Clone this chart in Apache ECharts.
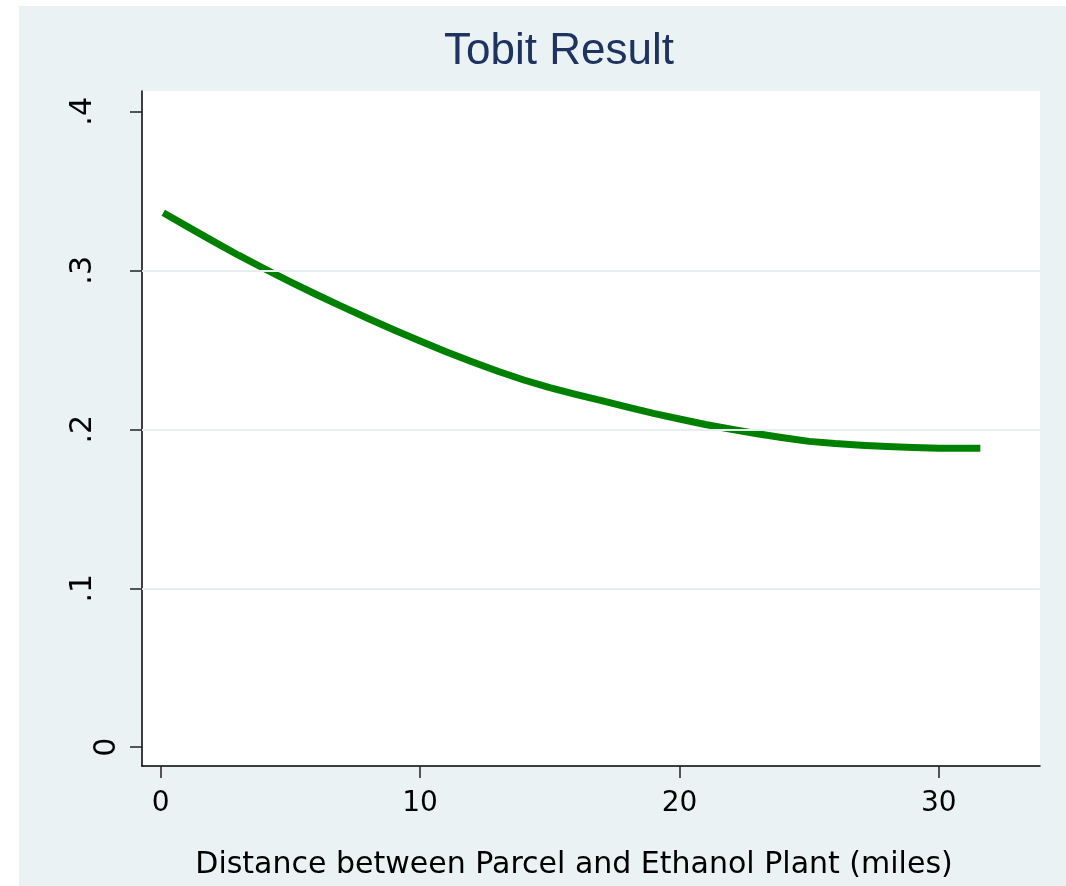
<!DOCTYPE html>
<html>
<head>
<meta charset="utf-8">
<script src="https://cdn.jsdelivr.net/npm/echarts@6/dist/echarts.min.js"></script>
<style>
html,body{margin:0;padding:0;background:#ffffff;}
#chart{position:absolute;left:19px;top:6px;width:1047px;height:880px;}
</style>
</head>
<body>
<div id="chart"></div>
<script>
// Data
const distance = [0.1,1,2,3,4,5,6,7,8,9,10,11,12,13,14,15,16,17,18,19,20,21,22,23,24,25,26,27,28,29,30,31,31.6];
const predicted = [0.3362,0.3278,0.3185,0.3095,0.3010,0.2928,0.2848,0.2772,0.2697,0.2625,0.2555,0.2488,0.2425,0.2365,0.2310,0.2262,0.2220,0.2180,0.2140,0.2100,0.2065,0.2030,0.2000,0.1972,0.1947,0.1924,0.1910,0.1900,0.1892,0.1885,0.1881,0.1880,0.1880];
const xTicks = [0,10,20,30];
const yTicks = [0,0.1,0.2,0.3,0.4];
const yGridLines = [0.1,0.2,0.3];
const titleText = 'Tobit Result';
const xAxisTitle = 'Distance between Parcel and Ethanol Plant (miles)';

const chart = echarts.init(document.getElementById('chart'));
const pts = distance.map((x,i)=>[x,predicted[i]]);
const fmtY = v => { const r = Math.round(v*10)/10; return r===0 ? '0' : String(r).replace(/^0/,''); };

chart.setOption({
  backgroundColor:'#EAF2F3',
  animation:false,
  title:{
    text:titleText, left:420, top:19,
    textStyle:{fontFamily:'Liberation Sans, Arial, sans-serif', fontSize:44, fontWeight:'normal', color:'#1f3360'}
  },
  grid:{left:123, top:85, right:26, bottom:120, show:true, backgroundColor:'#ffffff', borderWidth:0},
  xAxis:{
    type:'value', min:-0.72, max:33.9,
    axisLine:{show:true, onZero:false, lineStyle:{color:'#000', width:1.5}},
    axisTick:{show:true, customValues:xTicks, length:12, lineStyle:{color:'#222', width:1.5}},
    axisLabel:{customValues:xTicks, margin:24, fontFamily:'DejaVu Sans, sans-serif', fontSize:28, color:'#000'},
    splitLine:{show:false},
    name:xAxisTitle, nameLocation:'middle', nameGap:84,
    nameTextStyle:{fontFamily:'DejaVu Sans, sans-serif', fontSize:30, color:'#000', padding:[0,34,0,0]}
  },
  yAxis:{
    type:'value', min:-0.0118, max:0.4128,
    axisLine:{show:true, onZero:false, lineStyle:{color:'#000', width:1.5}},
    axisTick:{show:true, customValues:yTicks, length:12, lineStyle:{color:'#222', width:1.5}},
    axisLabel:{
      customValues:yTicks, rotate:90, margin:20,
      formatter: v => { const s = fmtY(v); return s==='0' ? '{z|0}' : '{d|'+s+'}'; },
      rich:{
        z:{fontFamily:'DejaVu Sans, sans-serif', fontSize:30, color:'#000'},
        d:{fontFamily:'DejaVu Sans, sans-serif', fontSize:30, color:'#000', padding:[0,0,24,0]}
      }
    },
    splitLine:{show:false}
  },
  series:[
    {
      type:'line', data:[], silent:true, z:1,
      markLine:{
        silent:true, symbol:'none', label:{show:false},
        lineStyle:{color:'#E6EFF0', width:2, type:'solid'},
        data: yGridLines.map(v=>({yAxis:v}))
      }
    },
    {
      type:'line', data:pts, showSymbol:false, smooth:false, z:3,
      lineStyle:{color:'#008000', width:7, cap:'butt', join:'round'}
    }
  ]
});
</script>
</body>
</html>
